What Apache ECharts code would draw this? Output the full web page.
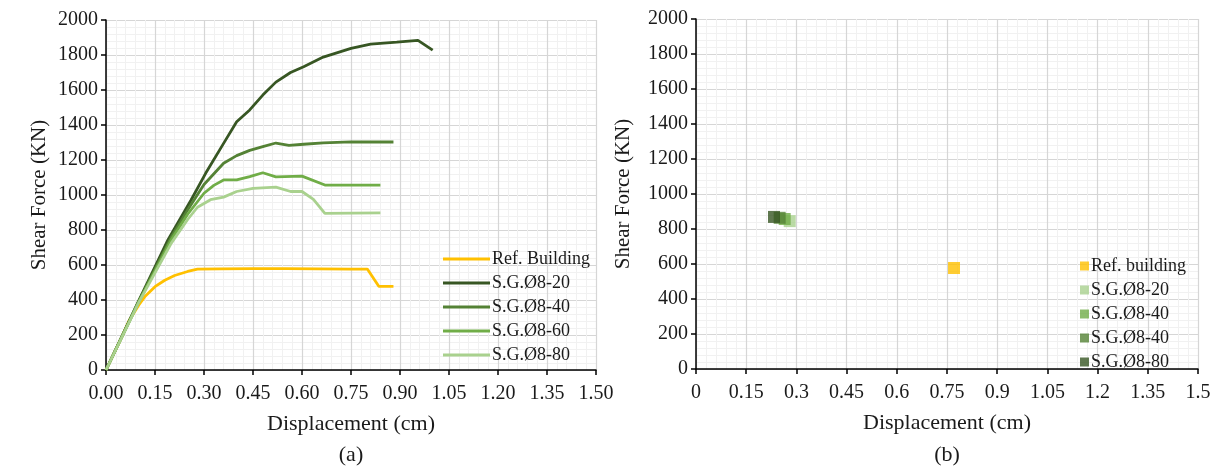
<!DOCTYPE html>
<html>
<head>
<meta charset="utf-8">
<script src="https://cdn.jsdelivr.net/npm/echarts@6/dist/echarts.min.js"></script>
<style>
html,body{margin:0;padding:0;background:#fff;}
#main{width:1225px;height:468px;}
</style>
</head>
<body>
<div id="main"></div>
<script>
// ---- data (displacement cm, shear force kN) ----
const refBuilding = [[0,0],[0.05,195],[0.07,280],[0.10,370],[0.12,422],[0.15,476],[0.18,513],[0.21,540],[0.25,563],[0.28,576],[0.35,578],[0.45,579],[0.55,579],[0.65,578],[0.75,577],[0.80,577],[0.835,478],[0.88,478]];
const sg20 = [[0,0],[0.10,395],[0.19,745],[0.26,970],[0.305,1124],[0.36,1295],[0.40,1419],[0.44,1486],[0.48,1571],[0.52,1645],[0.565,1700],[0.605,1733],[0.665,1788],[0.75,1838],[0.81,1862],[0.89,1874],[0.955,1884],[1.0,1828]];
const sg40 = [[0,0],[0.10,392],[0.20,760],[0.25,915],[0.30,1060],[0.36,1181],[0.40,1225],[0.44,1255],[0.48,1276],[0.52,1297],[0.56,1284],[0.605,1290],[0.665,1298],[0.75,1303],[0.88,1303]];
const sg60 = [[0,0],[0.10,388],[0.20,745],[0.25,890],[0.30,1010],[0.33,1055],[0.36,1086],[0.40,1086],[0.44,1105],[0.48,1127],[0.52,1104],[0.60,1108],[0.67,1057],[0.84,1057]];
const sg80 = [[0,0],[0.10,385],[0.20,725],[0.25,860],[0.28,930],[0.32,973],[0.36,988],[0.40,1020],[0.45,1038],[0.52,1045],[0.565,1020],[0.60,1020],[0.635,975],[0.67,895],[0.84,898]];

// panel (b) points
const bRef = [[0.771,577]];
const bSg20 = [[0.28,845]];
const bSg40a = [[0.265,857]];
const bSg40b = [[0.25,864]];
const bSg80 = [[0.233,869]];

const lineNames = ['Ref. Building','S.G.Ø8-20','S.G.Ø8-40','S.G.Ø8-60','S.G.Ø8-80'];
const pointNames = ['Ref. building','S.G.Ø8-20 ','S.G.Ø8-40 ','S.G.Ø8-40  ','S.G.Ø8-80 '];

const colYellow='#FFC000', colG1='#375623', colG2='#548235', colG3='#70AD47', colG4='#A9D18E';
const FONT='"Liberation Serif","Times New Roman",serif';
const TXT='#1a1a1a';

function xAxisCfg(idx, fmt){
  return {
    type:'value', gridIndex:idx, min:0, max:1.5, interval:0.15,
    name:'Displacement (cm)', nameLocation:'middle', nameGap:43,
    nameTextStyle:{fontFamily:FONT,fontSize:22,color:TXT},
    axisLine:{show:true,onZero:false,lineStyle:{color:'#000',width:1.5}},
    axisTick:{show:true,length:5,lineStyle:{color:'#000',width:1.5}},
    axisLabel:{fontFamily:FONT,fontSize:20,color:TXT,margin:14,formatter:fmt},
    splitLine:{show:true,lineStyle:{color:'#d6d6d6',width:1.2}},
    minorTick:{show:false,splitNumber:5},
    minorSplitLine:{show:true,lineStyle:{color:'#f1f1f1',width:1}}
  };
}
function yAxisCfg(idx, gap){
  return {
    type:'value', gridIndex:idx, min:0, max:2000, interval:200,
    name:'Shear Force (KN)', nameLocation:'middle', nameGap:gap, nameRotate:90,
    nameTextStyle:{fontFamily:FONT,fontSize:21,color:TXT},
    axisLine:{show:true,lineStyle:{color:'#000',width:1.5}},
    axisTick:{show:true,length:5,lineStyle:{color:'#000',width:1.5}},
    axisLabel:{fontFamily:FONT,fontSize:20,color:TXT,margin:8,formatter:v=>String(v)},
    splitLine:{show:true,lineStyle:{color:'#d6d6d6',width:1.2}},
    minorTick:{show:false,splitNumber:5},
    minorSplitLine:{show:true,lineStyle:{color:'#f1f1f1',width:1}}
  };
}
function lineSeries(name,data,color){
  return {name,type:'line',xAxisIndex:0,yAxisIndex:0,data,showSymbol:false,symbol:'none',
    lineStyle:{color,width:2.8},itemStyle:{color},animation:false,z:3};
}
function ptSeries(name,data,color){
  return {name,type:'scatter',xAxisIndex:1,yAxisIndex:1,data,symbol:'rect',symbolSize:12,
    itemStyle:{color},animation:false};
}

const chart = echarts.init(document.getElementById('main'),null,{renderer:'canvas'});
chart.setOption({
  backgroundColor:'#fff',
  animation:false,
  grid:[
    {left:106,top:20,width:490,height:350},
    {left:696,top:19,width:502,height:350}
  ],
  xAxis:[
    xAxisCfg(0, v=>v.toFixed(2)),
    xAxisCfg(1, v=>String(parseFloat(v.toFixed(2))))
  ],
  yAxis:[yAxisCfg(0,56), yAxisCfg(1,62)],
  legend:[
    {orient:'vertical',left:438,top:245,itemWidth:47,itemHeight:3,itemGap:6,icon:'rect',
     data:lineNames,textStyle:{fontFamily:FONT,fontSize:18,color:TXT,padding:[0,0,0,-3]},
     selectedMode:false},
    {orient:'vertical',left:1075,top:252,itemWidth:9,itemHeight:9,itemGap:6,icon:'rect',
     data:pointNames,formatter:n=>n.trim(),
     textStyle:{fontFamily:FONT,fontSize:18,color:TXT,padding:[0,0,0,-3]},
     selectedMode:false}
  ],
  graphic:[
    {type:'text',style:{text:'(a)',x:351,y:455,align:'center',verticalAlign:'middle',fontFamily:FONT,fontSize:22,fill:TXT}},
    {type:'text',style:{text:'(b)',x:947,y:455,align:'center',verticalAlign:'middle',fontFamily:FONT,fontSize:22,fill:TXT}}
  ],
  series:[
    lineSeries(lineNames[0],refBuilding,colYellow),
    lineSeries(lineNames[1],sg20,colG1),
    lineSeries(lineNames[2],sg40,colG2),
    lineSeries(lineNames[3],sg60,colG3),
    lineSeries(lineNames[4],sg80,colG4),
    ptSeries(pointNames[0],bRef,colYellow),
    ptSeries(pointNames[1],bSg20,colG4),
    ptSeries(pointNames[2],bSg40a,colG3),
    ptSeries(pointNames[3],bSg40b,colG2),
    ptSeries(pointNames[4],bSg80,colG1)
  ]
});
</script>
</body>
</html>
